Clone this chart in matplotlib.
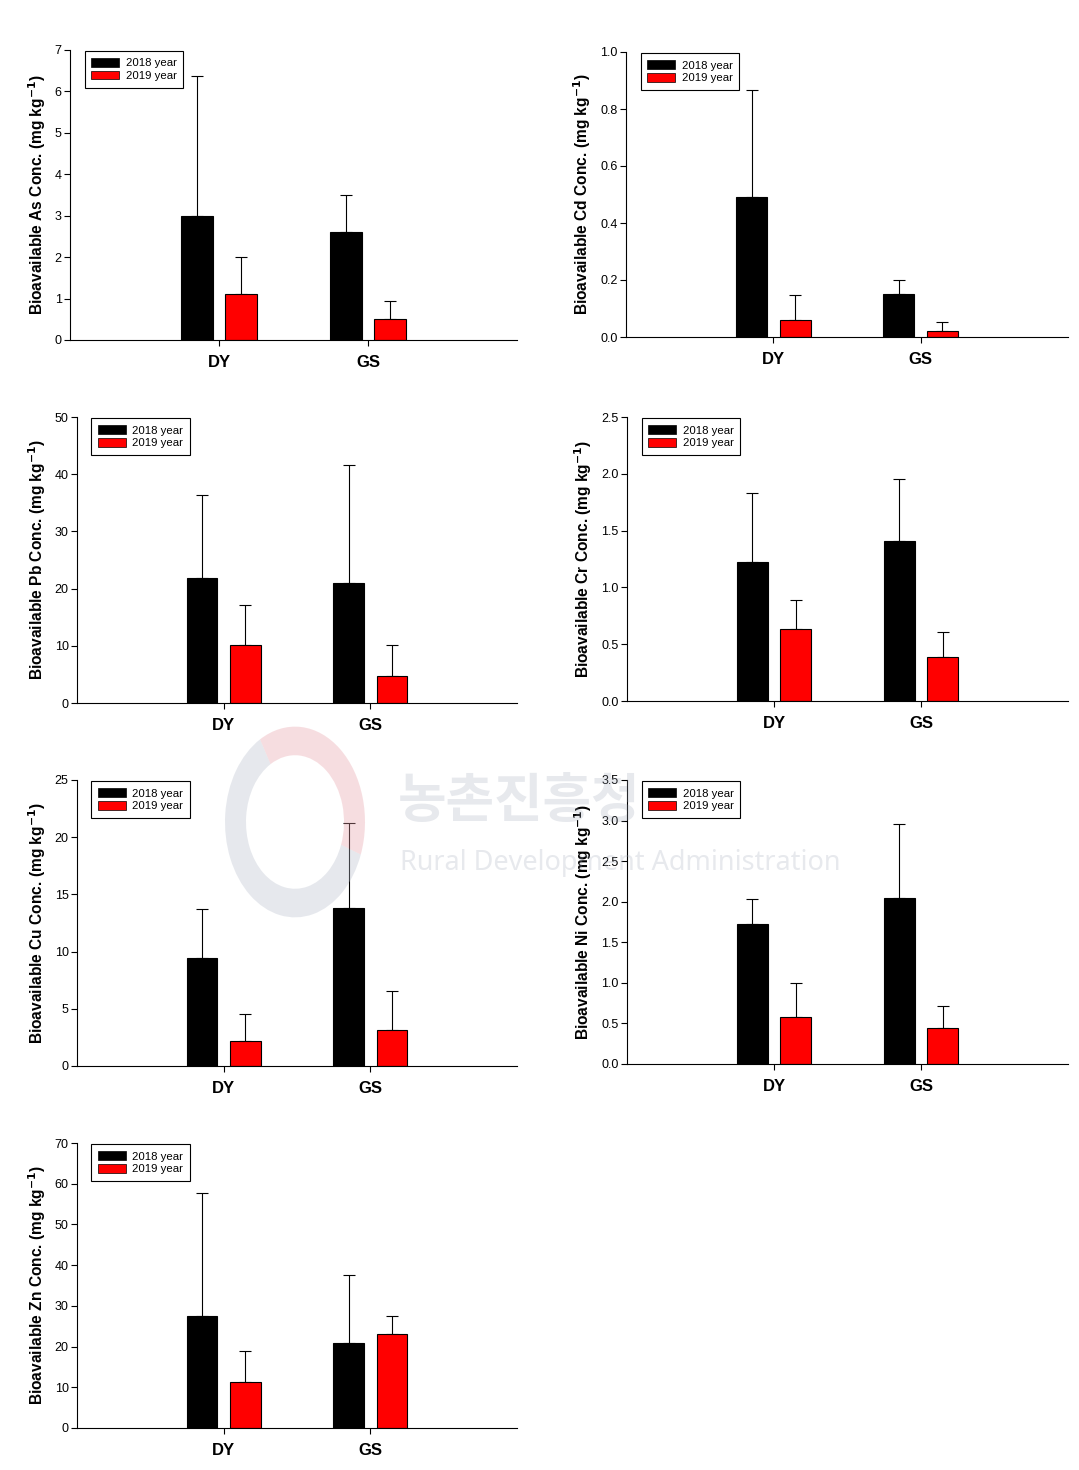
import numpy as np
import matplotlib
matplotlib.use('Agg')
import matplotlib.pyplot as plt
from matplotlib.patches import Patch, Wedge

plt.rcParams['font.family'] = ['Liberation Sans', 'DejaVu Sans']

sites = ['DY', 'GS']
years = ['2018 year', '2019 year']
colors = ['#000000', '#ff0000']

# mean values per site and the top of the upper error bar
as_2018 = [3.0, 2.6]
as_2019 = [1.1, 0.5]
as_top_2018 = [6.38, 3.5]
as_top_2019 = [2.0, 0.95]

cd_2018 = [0.49, 0.15]
cd_2019 = [0.06, 0.02]
cd_top_2018 = [0.865, 0.2]
cd_top_2019 = [0.148, 0.053]

pb_2018 = [21.8, 21.0]
pb_2019 = [10.1, 4.7]
pb_top_2018 = [36.4, 41.6]
pb_top_2019 = [17.1, 10.1]

cr_2018 = [1.22, 1.41]
cr_2019 = [0.63, 0.39]
cr_top_2018 = [1.83, 1.95]
cr_top_2019 = [0.89, 0.61]

cu_2018 = [9.4, 13.8]
cu_2019 = [2.2, 3.15]
cu_top_2018 = [13.7, 21.2]
cu_top_2019 = [4.55, 6.55]

ni_2018 = [1.72, 2.04]
ni_2019 = [0.58, 0.44]
ni_top_2018 = [2.03, 2.96]
ni_top_2019 = [1.0, 0.71]

zn_2018 = [27.6, 20.8]
zn_2019 = [11.4, 23.2]
zn_top_2018 = [57.6, 37.7]
zn_top_2019 = [18.8, 27.6]

panels = [
    ('As', as_2018, as_2019, as_top_2018, as_top_2019, 7, 1, '%d'),
    ('Cd', cd_2018, cd_2019, cd_top_2018, cd_top_2019, 1.0, 0.2, '%.1f'),
    ('Pb', pb_2018, pb_2019, pb_top_2018, pb_top_2019, 50, 10, '%d'),
    ('Cr', cr_2018, cr_2019, cr_top_2018, cr_top_2019, 2.5, 0.5, '%.1f'),
    ('Cu', cu_2018, cu_2019, cu_top_2018, cu_top_2019, 25, 5, '%d'),
    ('Ni', ni_2018, ni_2019, ni_top_2018, ni_top_2019, 3.5, 0.5, '%.1f'),
    ('Zn', zn_2018, zn_2019, zn_top_2018, zn_top_2019, 70, 10, '%d'),
]

# axes boxes in pixels: x0, x1, ytop, ybottom
boxes = [
    (70, 517, 50, 340), (626, 1068, 52, 337),
    (77, 517, 417, 703), (627, 1068, 417, 701),
    (77, 517, 780, 1066), (627, 1068, 780, 1064),
    (77, 517, 1143, 1428),
]

W, H = 1079, 1470
fig = plt.figure(figsize=(W / 100, H / 100), dpi=100)

x = np.arange(len(sites))
width = 0.21
offset = 0.148

for (metal, m18, m19, t18, t19, ymax, step, fmt), (x0, x1, yt, yb) in zip(panels, boxes):
    ax = fig.add_axes([x0 / W, 1 - yb / H, (x1 - x0) / W, (yb - yt) / H])
    for k, (means, tops) in enumerate([(m18, t18), (m19, t19)]):
        xs = x + (-offset if k == 0 else offset)
        means = np.array(means)
        err = np.array(tops) - means
        ax.errorbar(xs, means, yerr=[np.zeros_like(err), err], fmt='none',
                    ecolor='black', elinewidth=0.8, capsize=4.5, capthick=0.8, zorder=1)
        ax.bar(xs, means, width, color=colors[k], edgecolor='black',
               linewidth=0.8, zorder=2)
    ax.set_xlim(-1, 2)
    ax.set_ylim(0, ymax)
    ticks = np.arange(0, ymax + step / 2, step)
    ax.set_yticks(ticks)
    ax.set_yticklabels([fmt % t for t in ticks], fontsize=9)
    ax.set_xticks(x)
    ax.set_xticklabels(sites, fontsize=12, fontweight='bold')
    ax.tick_params(axis='x', length=4, width=0.8, pad=7)
    ax.tick_params(axis='y', length=4, width=0.8, pad=2)
    for s in ['top', 'right']:
        ax.spines[s].set_visible(False)
    for s in ['left', 'bottom']:
        ax.spines[s].set_linewidth(0.8)
    ax.set_ylabel('Bioavailable %s Conc. (mg kg$^{\\mathbf{-1}}$)' % metal,
                  fontsize=11.2, fontweight='bold', labelpad=5)
    handles = [Patch(facecolor=c, edgecolor='black', linewidth=0.5) for c in colors]
    leg = ax.legend(handles, years, loc='upper left', bbox_to_anchor=(0.02, 1.015),
                    fontsize=8.2, handlelength=2.4, handleheight=0.8, handletextpad=0.6,
                    labelspacing=0.2, borderpad=0.6, fancybox=False, framealpha=1)
    leg.get_frame().set_edgecolor('black')
    leg.get_frame().set_linewidth(0.8)

# faint watermark of the source
cx, cy, r = 295 / W, 1 - 822 / H, 70 / W
for t1, t2, c in [(-20, 120, '#e8a0a8'), (120, 340, '#b8bfcc')]:
    fig.patches.append(Wedge((cx, cy), r, t1, t2, width=r * 0.3,
                             transform=fig.transFigure, facecolor=c, alpha=0.35,
                             edgecolor='none', figure=fig))
fig.text(398 / W, 1 - 802 / H, '농촌진흥청', fontsize=38, fontweight='bold',
         color='#a0a8b8', alpha=0.25, va='center', ha='left',
         family=['Noto Sans CJK KR', 'DejaVu Sans'])
fig.text(400 / W, 1 - 863 / H, 'Rural Development Administration', fontsize=19.5,
         color='#a0a8b8', alpha=0.25, va='center', ha='left',
         family=['Noto Sans', 'DejaVu Sans'])

fig.savefig('out.png', dpi=100)
